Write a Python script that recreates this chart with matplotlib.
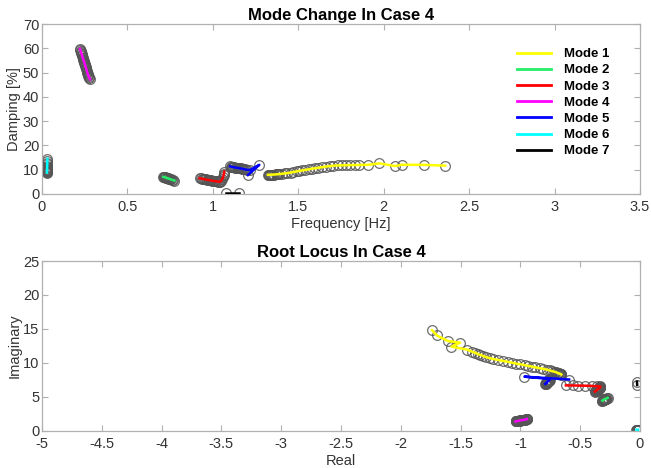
import numpy as np
import matplotlib
matplotlib.use("Agg")
import matplotlib.pyplot as plt
from matplotlib.lines import Line2D

plt.rcParams['font.family'] = ['Liberation Sans', 'DejaVu Sans']
plt.rcParams['axes.unicode_minus'] = False

# ---- data: frequency [Hz] and damping [%] of each mode ----
mode_names = ["Mode 1", "Mode 2", "Mode 3", "Mode 4", "Mode 5", "Mode 6", "Mode 7"]
mode_colors = ["#ffff00", "#22ee66", "#ff0000", "#ff00ff", "#0000ff", "#00ffff", "#000000"]

mode1_freq = [1.322, 1.326, 1.330, 1.334, 1.338, 1.343, 1.348, 1.354, 1.36, 1.367, 1.374, 1.382,
              1.39, 1.403, 1.42, 1.436, 1.455, 1.471, 1.49,
              1.506, 1.523, 1.54, 1.56, 1.579, 1.60, 1.618, 1.64, 1.663, 1.685, 1.706, 1.73,
              1.755, 1.78, 1.803, 1.83, 1.858, 1.907, 1.975, 2.067, 2.106, 2.236, 2.360]
mode1_damp = [7.9, 7.9, 7.9, 7.92, 7.94, 7.95, 7.97, 8.0, 8.02, 8.06, 8.1, 8.15,
              8.2, 8.35, 8.45, 8.6, 8.8, 9.05, 9.3,
              9.5, 9.7, 9.9, 10.15, 10.4, 10.6, 10.8, 11.05, 11.3, 11.5, 11.65, 11.75,
              11.8, 11.85, 11.9, 11.9, 11.95, 12.0, 12.6, 11.5, 12.05, 12.0, 11.65]

mode2_freq = [0.710, 0.713, 0.716, 0.719, 0.722, 0.725, 0.728, 0.731, 0.734, 0.737, 0.740,
              0.743, 0.746, 0.749, 0.752, 0.756, 0.760, 0.766, 0.775]
mode2_damp = [7.05, 7.0, 6.95, 6.88, 6.82, 6.75, 6.68, 6.6, 6.53, 6.46, 6.38,
              6.3, 6.22, 6.15, 6.07, 5.98, 5.88, 5.75, 5.55]

mode3_freq = [0.922, 0.928, 0.934, 0.940, 0.946, 0.952, 0.958, 0.964, 0.970, 0.976, 0.982,
              0.988, 0.994, 1.000, 1.006, 1.012, 1.018, 1.024, 1.030, 1.036, 1.042,
              1.048, 1.055, 1.06, 1.063, 1.065, 1.067]
mode3_damp = [6.5, 6.4, 6.32, 6.24, 6.15, 6.06, 5.98, 5.9, 5.82, 5.74, 5.66,
              5.58, 5.5, 5.43, 5.36, 5.3, 5.24, 5.18, 5.12, 5.08, 5.06,
              5.4, 6.1, 6.9, 7.7, 8.4, 9.2]

mode4_freq = [0.222, 0.224, 0.226, 0.228, 0.230, 0.232, 0.234, 0.236, 0.238, 0.240, 0.242,
              0.244, 0.246, 0.248, 0.250, 0.252, 0.254, 0.256, 0.258, 0.260, 0.262, 0.264,
              0.266, 0.268, 0.270, 0.272, 0.275, 0.278, 0.281]
mode4_damp = [59.8, 59.4, 58.9, 58.5, 58.0, 57.6, 57.1, 56.7, 56.2, 55.8, 55.3,
              54.9, 54.4, 54.0, 53.5, 53.1, 52.6, 52.2, 51.7, 51.3, 50.8, 50.4,
              49.9, 49.5, 49.0, 48.6, 48.1, 47.7, 47.2]

mode5_freq = [1.100, 1.105, 1.11, 1.115, 1.12, 1.125, 1.13, 1.135, 1.14, 1.145, 1.15, 1.155,
              1.16, 1.165, 1.17, 1.175, 1.18, 1.19, 1.20, 1.218, 1.272, 1.205]
mode5_damp = [11.4, 11.3, 11.2, 11.15, 11.05, 11.0, 10.9, 10.85, 10.8, 10.75, 10.7, 10.6,
              10.55, 10.5, 10.4, 10.3, 10.25, 10.1, 9.95, 9.9, 12.0, 7.8]

mode6_freq = [0.029, 0.029, 0.029, 0.029, 0.029, 0.029, 0.030, 0.030, 0.030, 0.030, 0.030,
              0.030, 0.031, 0.031, 0.031, 0.032]
mode6_damp = [8.8, 9.0, 9.2, 9.4, 9.6, 9.8, 10.0, 10.3, 10.6, 10.9, 11.3,
              11.7, 12.2, 12.8, 13.5, 14.5]

mode7_freq = [1.077, 1.155]
mode7_damp = [0.35, 0.35]

freqs = [mode1_freq, mode2_freq, mode3_freq, mode4_freq, mode5_freq, mode6_freq, mode7_freq]
damps = [mode1_damp, mode2_damp, mode3_damp, mode4_damp, mode5_damp, mode6_damp, mode7_damp]

top_xticks = [0, 0.5, 1, 1.5, 2, 2.5, 3, 3.5]
top_yticks = [0, 10, 20, 30, 40, 50, 60, 70]
bot_xticks = [-5, -4.5, -4, -3.5, -3, -2.5, -2, -1.5, -1, -0.5, 0]
bot_yticks = [0, 5, 10, 15, 20, 25]

# ---- figure ----
fig = plt.figure(figsize=(6.51, 4.68), dpi=100)
ax1 = fig.add_axes([0.0645, 0.5855, 0.9186, 0.3632])
ax2 = fig.add_axes([0.0645, 0.0791, 0.9186, 0.3632])

edge = '#555555'
tick_col = '#333333'


def style(ax, xt, yt, xl, yl):
    ax.set_xticks(xt)
    ax.set_yticks(yt)
    ax.set_xticklabels([('%g' % v) for v in xt])
    ax.set_yticklabels([('%g' % v) for v in yt])
    ax.set_xlim(xt[0], xt[-1])
    ax.set_ylim(yt[0], yt[-1])
    for s in ax.spines.values():
        s.set_color('#b0b0b0')
        s.set_linewidth(0.9)
    ax.tick_params(direction='in', length=4, width=0.8, color='#b0b0b0',
                   top=True, right=True, labelsize=10.5, labelcolor=tick_col)
    ax.tick_params(axis='x', pad=4.5)
    ax.tick_params(axis='y', pad=2)
    ax.set_xlabel(xl, fontsize=10.5, color=tick_col, labelpad=2)
    ax.set_ylabel(yl, fontsize=10.5, color=tick_col, labelpad=1)


for f, d, c, n in zip(freqs, damps, mode_colors, mode_names):
    f = np.array(f)
    z = np.array(d) / 100.0
    omega = 2 * np.pi * f
    sigma = -z * omega / np.sqrt(1 - z ** 2)
    # top: frequency vs damping
    ax1.plot(f, d, linestyle='none', marker='o', ms=7, mfc='none', mec=edge, mew=0.9,
             alpha=0.85, zorder=2)
    ax1.plot(f, d, color=c, lw=1.8, zorder=3)
    # bottom: root locus
    ax2.plot(sigma, omega, linestyle='none', marker='o', ms=7, mfc='none', mec=edge, mew=0.9,
             alpha=0.85, zorder=2)
    ax2.plot(sigma, omega, color=c, lw=1.8, zorder=3)

style(ax1, top_xticks, top_yticks, 'Frequency [Hz]', 'Damping [%]')
style(ax2, bot_xticks, bot_yticks, 'Real', 'Imaginary')

ax1.set_title('Mode Change In Case 4', fontsize=12, fontweight='bold', pad=3)
ax2.set_title('Root Locus In Case 4', fontsize=12, fontweight='bold', pad=3)

handles = [Line2D([0], [0], color=c, lw=2) for c in mode_colors]
leg = ax1.legend(handles, mode_names, loc='upper left', bbox_to_anchor=(0.785, 0.89),
                 frameon=False, prop={'weight': 'bold', 'size': 9.5},
                 handlelength=2.6, handletextpad=1.0, labelspacing=0.3, borderaxespad=0)

fig.savefig('out.png', dpi=100)
